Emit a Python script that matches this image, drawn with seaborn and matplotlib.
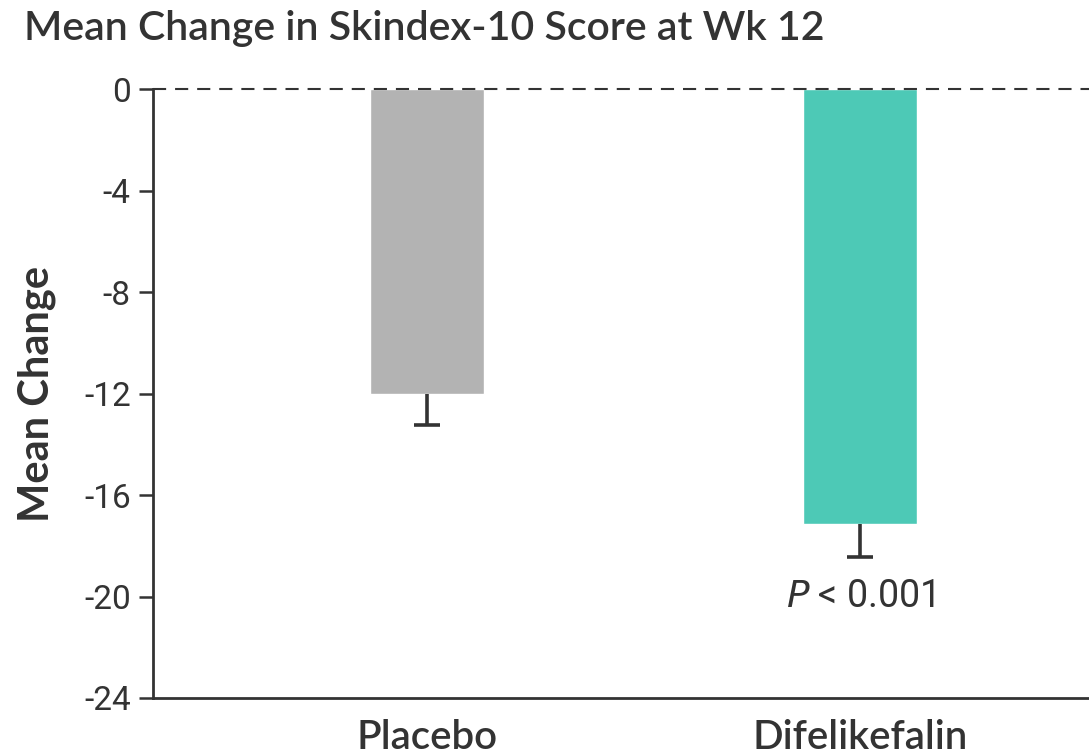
import numpy as np
import pandas as pd
import seaborn as sns
import matplotlib.pyplot as plt

groups = ['Placebo', 'Difelikefalin']
mean_change = [-12.0, -17.15]
lower_err = [1.25, 1.3]
y_ticks = [0, -4, -8, -12, -16, -20, -24]
p_text = '$\\mathit{P}$ < 0.001'

bar_colors = ['#b3b3b3', '#4dc9b6']
ink = '#333333'

sns.set_theme(style='white')
plt.rcParams['font.family'] = ['Lato', 'DejaVu Sans']

df = pd.DataFrame({'group': groups, 'change': mean_change})

fig = plt.figure(figsize=(10.89, 7.55), dpi=100)
ax = fig.add_axes([0.1405, 0.0755, 0.8595, 0.8066])

sns.barplot(data=df, x='group', y='change', hue='group', palette=bar_colors,
            width=0.263, saturation=1, legend=False, ax=ax)

# one-sided error bars: stem down from the bar end, cap only at the bottom
x_pos = np.arange(len(groups))
err_low = np.array(mean_change) - np.array(lower_err)
ax.vlines(x_pos, err_low, mean_change, color=ink, linewidth=2.6)
ax.plot(x_pos, err_low, linestyle='none', marker='_', markersize=19,
        markeredgewidth=2.6, color=ink)

ax.axhline(0, color=ink, linestyle=(0, (6.3, 4.3)), linewidth=1.5, clip_on=False)

ax.set_ylim(-24, 0)
ax.set_xlim(-0.633, 1.529)
ax.set_yticks(y_ticks)
ax.set_yticklabels([str(t) for t in y_ticks], fontfamily='Roboto', fontsize=24, color=ink)
ax.set_xticks(x_pos)
ax.set_xticklabels(groups, fontsize=29, fontweight='semibold', color=ink)

ax.tick_params(axis='y', which='major', left=True, length=10, width=1.8, color=ink, pad=6)
ax.tick_params(axis='x', bottom=False, pad=9)

for side in ['top', 'right']:
    ax.spines[side].set_visible(False)
for side in ['left', 'bottom']:
    ax.spines[side].set_color(ink)
    ax.spines[side].set_linewidth(2)

ax.set_xlabel('')
ax.set_ylabel('Mean Change', fontsize=30, fontweight='bold', color=ink, labelpad=20)

ax.text(1, -20, p_text, ha='center', va='center', fontsize=27,
        fontfamily='Roboto', color=ink)

fig.text(0.022, 0.962, 'Mean Change in Skindex-10 Score at Wk 12', fontsize=29.5,
         fontweight='semibold', color=ink, ha='left', va='center')

fig.savefig('out.png', dpi=100)
